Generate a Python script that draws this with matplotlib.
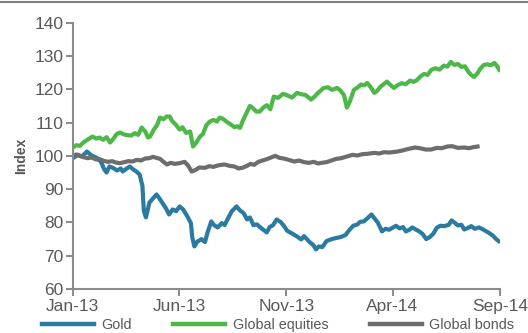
import matplotlib
matplotlib.use("Agg")
import matplotlib.pyplot as plt
from matplotlib.lines import Line2D
import pandas as pd

plt.rcParams['font.family'] = ['Liberation Sans', 'DejaVu Sans']

gold_data = [
    ("2013-01-01", 99.3), ("2013-01-08", 100.3), ("2013-01-14", 99.8), ("2013-01-21", 101.3), ("2013-01-27", 100.2),
    ("2013-02-04", 99.4), ("2013-02-10", 98.2), ("2013-02-15", 95.8), ("2013-02-18", 95.0), ("2013-02-22", 96.8),
    ("2013-02-27", 96.4), ("2013-03-05", 95.6), ("2013-03-10", 96.2), ("2013-03-13", 95.3), ("2013-03-18", 96.1),
    ("2013-03-23", 96.8), ("2013-03-28", 95.9), ("2013-04-02", 95.2), ("2013-04-06", 94.4), ("2013-04-10", 91.0),
    ("2013-04-12", 83.5), ("2013-04-15", 81.5), ("2013-04-20", 86.0), ("2013-04-25", 87.2), ("2013-04-30", 88.4),
    ("2013-05-03", 87.6), ("2013-05-08", 86.0), ("2013-05-13", 84.4), ("2013-05-18", 82.4), ("2013-05-23", 83.9),
    ("2013-05-28", 83.4), ("2013-06-02", 84.8), ("2013-06-07", 83.9), ("2013-06-13", 81.8), ("2013-06-18", 79.8),
    ("2013-06-20", 75.5), ("2013-06-23", 72.8), ("2013-06-27", 74.2), ("2013-07-03", 75.0), ("2013-07-08", 74.1),
    ("2013-07-12", 77.2), ("2013-07-17", 80.3), ("2013-07-21", 79.2), ("2013-07-26", 78.5), ("2013-08-01", 79.8),
    ("2013-08-05", 79.2), ("2013-08-09", 80.9), ("2013-08-15", 83.3), ("2013-08-22", 84.8), ("2013-08-27", 83.6),
    ("2013-09-01", 82.8), ("2013-09-06", 80.9), ("2013-09-10", 81.5), ("2013-09-15", 79.2), ("2013-09-20", 79.4),
    ("2013-09-26", 78.3), ("2013-10-04", 77.0), ("2013-10-08", 78.6), ("2013-10-13", 79.2), ("2013-10-18", 80.9),
    ("2013-10-24", 80.1), ("2013-10-29", 78.8), ("2013-11-02", 77.5), ("2013-11-08", 76.8), ("2013-11-12", 76.3),
    ("2013-11-16", 75.8), ("2013-11-22", 74.9), ("2013-11-26", 75.9), ("2013-11-30", 75.0), ("2013-12-05", 73.9),
    ("2013-12-09", 73.3), ("2013-12-13", 71.9), ("2013-12-17", 72.8), ("2013-12-22", 72.6), ("2013-12-28", 74.4),
    ("2014-01-03", 74.9), ("2014-01-10", 75.3), ("2014-01-17", 75.6), ("2014-01-24", 76.2), ("2014-01-29", 77.6),
    ("2014-02-04", 79.0), ("2014-02-10", 79.4), ("2014-02-14", 80.2), ("2014-02-19", 80.3), ("2014-02-24", 81.2),
    ("2014-03-02", 82.4), ("2014-03-06", 81.3), ("2014-03-11", 80.0), ("2014-03-17", 77.3), ("2014-03-22", 78.1),
    ("2014-03-27", 77.8), ("2014-04-01", 78.4), ("2014-04-06", 79.0), ("2014-04-11", 78.2), ("2014-04-16", 78.6),
    ("2014-04-20", 77.3), ("2014-04-25", 77.8), ("2014-04-29", 78.5), ("2014-05-04", 77.9), ("2014-05-09", 77.3),
    ("2014-05-14", 76.5), ("2014-05-19", 75.0), ("2014-05-24", 75.6), ("2014-05-29", 76.6), ("2014-06-03", 78.4),
    ("2014-06-08", 79.0), ("2014-06-14", 78.9), ("2014-06-20", 79.3), ("2014-06-24", 80.6), ("2014-06-28", 80.0),
    ("2014-07-03", 79.1), ("2014-07-08", 79.3), ("2014-07-12", 77.9), ("2014-07-17", 78.3), ("2014-07-22", 78.9),
    ("2014-07-27", 78.1), ("2014-08-02", 78.5), ("2014-08-07", 78.0), ("2014-08-11", 77.5), ("2014-08-16", 76.9),
    ("2014-08-22", 76.0), ("2014-08-26", 75.1), ("2014-08-30", 74.4),
]
gold_dates = [d for d, v in gold_data]
gold_vals = [v for d, v in gold_data]

equity_data = [
    ("2013-01-01", 102.5), ("2013-01-06", 103.2), ("2013-01-11", 103.0), ("2013-01-17", 104.2), ("2013-01-23", 105.0),
    ("2013-01-29", 105.8), ("2013-02-03", 105.2), ("2013-02-08", 105.5), ("2013-02-13", 104.8), ("2013-02-18", 105.6),
    ("2013-02-23", 104.0), ("2013-02-28", 105.2), ("2013-03-04", 106.5), ("2013-03-09", 107.0), ("2013-03-15", 106.4),
    ("2013-03-20", 106.2), ("2013-03-25", 106.1), ("2013-03-30", 106.8), ("2013-04-04", 106.3), ("2013-04-09", 108.5),
    ("2013-04-14", 107.3), ("2013-04-18", 105.5), ("2013-04-21", 105.8), ("2013-04-26", 107.8), ("2013-05-01", 109.3),
    ("2013-05-05", 111.5), ("2013-05-10", 111.0), ("2013-05-14", 111.8), ("2013-05-19", 111.8), ("2013-05-22", 110.5),
    ("2013-05-27", 109.5), ("2013-06-02", 107.9), ("2013-06-06", 108.6), ("2013-06-11", 106.9), ("2013-06-17", 107.3),
    ("2013-06-21", 102.8), ("2013-06-25", 103.8), ("2013-07-01", 105.8), ("2013-07-05", 106.5), ("2013-07-10", 109.2),
    ("2013-07-15", 110.3), ("2013-07-20", 110.8), ("2013-07-25", 110.3), ("2013-07-29", 111.5), ("2013-08-03", 111.1),
    ("2013-08-08", 110.2), ("2013-08-14", 109.4), ("2013-08-19", 108.6), ("2013-08-23", 108.9), ("2013-08-27", 108.4),
    ("2013-08-31", 110.6), ("2013-09-05", 112.8), ("2013-09-10", 115.0), ("2013-09-15", 114.2), ("2013-09-19", 113.3),
    ("2013-09-24", 113.3), ("2013-09-29", 114.5), ("2013-10-04", 115.2), ("2013-10-09", 114.0), ("2013-10-14", 117.8),
    ("2013-10-20", 117.4), ("2013-10-27", 118.6), ("2013-11-02", 118.2), ("2013-11-09", 117.5), ("2013-11-16", 118.9),
    ("2013-11-22", 118.5), ("2013-11-28", 118.3), ("2013-12-02", 117.6), ("2013-12-06", 116.9), ("2013-12-11", 117.8),
    ("2013-12-16", 118.9), ("2013-12-24", 120.4), ("2013-12-30", 120.6), ("2014-01-05", 119.8), ("2014-01-12", 120.4),
    ("2014-01-17", 119.6), ("2014-01-22", 118.2), ("2014-01-26", 114.5), ("2014-01-30", 116.2), ("2014-02-05", 119.8),
    ("2014-02-10", 120.5), ("2014-02-15", 121.4), ("2014-02-20", 121.2), ("2014-02-24", 121.9), ("2014-03-01", 120.6),
    ("2014-03-06", 118.9), ("2014-03-10", 119.5), ("2014-03-15", 120.8), ("2014-03-20", 121.6), ("2014-03-24", 122.3),
    ("2014-03-29", 121.3), ("2014-04-03", 120.4), ("2014-04-08", 121.2), ("2014-04-14", 121.8), ("2014-04-20", 121.5),
    ("2014-04-26", 122.6), ("2014-05-01", 122.2), ("2014-05-06", 122.8), ("2014-05-11", 123.9), ("2014-05-16", 124.6),
    ("2014-05-21", 124.3), ("2014-05-26", 125.8), ("2014-06-01", 126.3), ("2014-06-07", 125.9), ("2014-06-13", 127.1),
    ("2014-06-18", 126.8), ("2014-06-23", 128.2), ("2014-06-28", 127.3), ("2014-07-03", 127.6), ("2014-07-08", 126.7),
    ("2014-07-13", 126.9), ("2014-07-18", 125.2), ("2014-07-22", 124.3), ("2014-07-26", 123.7), ("2014-07-31", 124.8),
    ("2014-08-04", 126.2), ("2014-08-09", 127.3), ("2014-08-14", 127.5), ("2014-08-19", 127.2), ("2014-08-24", 127.9),
    ("2014-08-28", 126.9), ("2014-08-31", 125.8),
]
equity_dates = [d for d, v in equity_data]
equity_vals = [v for d, v in equity_data]

bond_data = [
    ("2013-01-01", 100.0), ("2013-01-06", 100.4), ("2013-01-11", 100.0), ("2013-01-16", 99.6), ("2013-01-22", 99.3),
    ("2013-01-28", 99.5), ("2013-02-03", 98.9), ("2013-02-08", 99.0), ("2013-02-14", 98.5), ("2013-02-20", 98.2),
    ("2013-02-26", 98.4), ("2013-03-03", 98.0), ("2013-03-09", 97.8), ("2013-03-15", 98.1), ("2013-03-21", 98.4),
    ("2013-03-27", 98.3), ("2013-04-02", 98.8), ("2013-04-08", 98.6), ("2013-04-14", 99.2), ("2013-04-20", 99.3),
    ("2013-04-25", 99.7), ("2013-04-30", 99.4), ("2013-05-05", 99.1), ("2013-05-10", 98.2), ("2013-05-15", 97.4),
    ("2013-05-20", 97.9), ("2013-05-26", 97.6), ("2013-06-02", 97.8), ("2013-06-09", 98.2), ("2013-06-14", 97.1),
    ("2013-06-19", 95.3), ("2013-06-24", 95.7), ("2013-06-30", 96.5), ("2013-07-08", 96.4), ("2013-07-14", 96.9),
    ("2013-07-20", 96.7), ("2013-07-28", 97.2), ("2013-08-05", 97.4), ("2013-08-12", 97.0), ("2013-08-19", 96.8),
    ("2013-08-25", 96.2), ("2013-08-30", 96.4), ("2013-09-05", 96.9), ("2013-09-11", 97.6), ("2013-09-16", 97.3),
    ("2013-09-22", 98.2), ("2013-09-28", 98.6), ("2013-10-04", 99.0), ("2013-10-10", 99.5), ("2013-10-16", 100.0),
    ("2013-10-22", 99.4), ("2013-10-28", 99.2), ("2013-11-04", 98.8), ("2013-11-12", 98.3), ("2013-11-19", 98.6),
    ("2013-11-26", 98.1), ("2013-12-03", 97.9), ("2013-12-10", 98.2), ("2013-12-16", 97.7), ("2013-12-21", 97.9),
    ("2013-12-28", 98.1), ("2014-01-04", 98.6), ("2014-01-11", 99.1), ("2014-01-18", 99.3), ("2014-01-26", 99.8),
    ("2014-02-03", 100.3), ("2014-02-10", 100.1), ("2014-02-17", 100.5), ("2014-02-24", 100.6), ("2014-03-06", 100.9),
    ("2014-03-13", 100.7), ("2014-03-20", 101.1), ("2014-03-28", 101.0), ("2014-04-08", 101.3), ("2014-04-15", 101.6),
    ("2014-04-22", 102.0), ("2014-05-03", 102.5), ("2014-05-10", 102.3), ("2014-05-18", 101.9), ("2014-05-26", 101.9),
    ("2014-06-03", 102.4), ("2014-06-10", 102.3), ("2014-06-18", 102.8), ("2014-06-25", 102.9), ("2014-07-03", 102.4),
    ("2014-07-12", 102.5), ("2014-07-19", 102.3), ("2014-07-25", 102.6), ("2014-07-31", 102.8),
]
bond_dates = [d for d, v in bond_data]
bond_vals = [v for d, v in bond_data]

series_names = ["Gold", "Global equities", "Global bonds"]
colors = ["#2B7BA1", "#4DB848", "#6D6D6D"]
tick_dates = ["2013-01-01", "2013-06-01", "2013-11-01", "2014-04-01", "2014-09-01"]
tick_labels = ["Jan-13", "Jun-13", "Nov-13", "Apr-14", "Sep-14"]
y_ticks = [60, 70, 80, 90, 100, 110, 120, 130, 140]

fig = plt.figure(figsize=(5.28, 3.33), dpi=100)
ax = fig.add_axes([0.138, 0.132, 0.809, 0.800])

lw = 3.0
ax.plot(pd.to_datetime(gold_dates), gold_vals, color=colors[0], lw=lw, solid_joinstyle='round')
ax.plot(pd.to_datetime(equity_dates), equity_vals, color=colors[1], lw=lw, solid_joinstyle='round')
ax.plot(pd.to_datetime(bond_dates), bond_vals, color=colors[2], lw=lw, solid_joinstyle='round')

ax.set_xlim(pd.Timestamp(tick_dates[0]), pd.Timestamp(tick_dates[-1]))
ax.set_ylim(60, 140)
ax.set_yticks(y_ticks)
ax.set_xticks(pd.to_datetime(tick_dates))
ax.set_xticklabels(tick_labels)

axis_color = "#8C8C8C"
text_color = "#595959"
for s in ["top", "right"]:
    ax.spines[s].set_visible(False)
for s in ["left", "bottom"]:
    ax.spines[s].set_color(axis_color)
    ax.spines[s].set_linewidth(1.5)
ax.tick_params(axis='both', direction='out', color=axis_color, width=1.5, length=5,
               labelsize=12.5, labelcolor=text_color, pad=2)
ax.set_ylabel("Index", fontsize=10, fontweight='bold', color=text_color, labelpad=4)

handles = [Line2D([0], [0], color=c, lw=3.2) for c in colors]
fig.legend(handles, series_names, loc='center left', bbox_to_anchor=(0.079, 0.024),
           ncol=3, frameon=False, fontsize=10.4, handlelength=3.6, handletextpad=0.5,
           columnspacing=2.9, borderpad=0, borderaxespad=0, labelcolor=text_color)

fig.add_artist(Line2D([0, 1], [0.994, 0.994], color="#7F7F7F", lw=1.5, transform=fig.transFigure))

fig.savefig("out.png", dpi=100)
